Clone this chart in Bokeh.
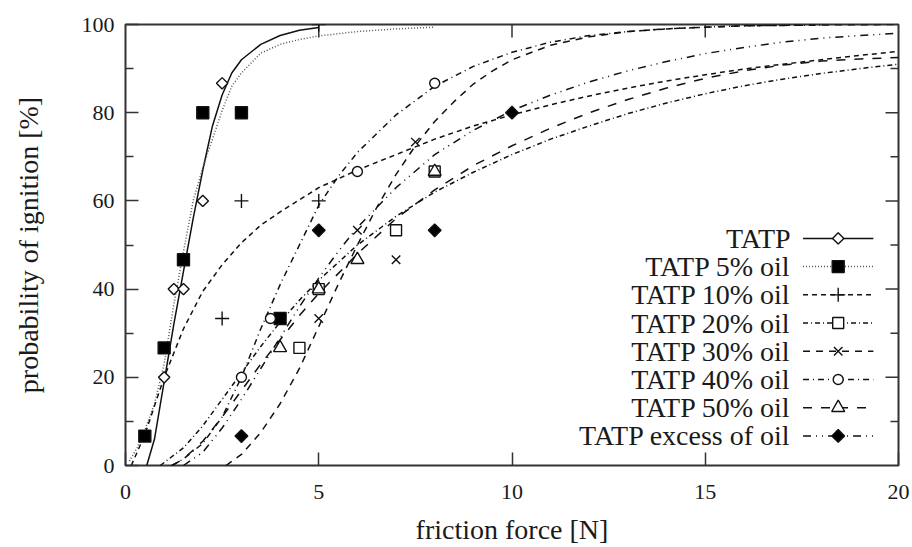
import math
from bokeh.plotting import figure
from bokeh.models import Range1d, FixedTicker
from bokeh.core.properties import value
from bokeh.embed import file_html
from bokeh.resources import INLINE

# ---------------- measured points ----------------
tatp_x = [1, 1.25, 1.5, 2, 2.5]
tatp_y = [20, 40, 40, 60, 86.67]
oil5_x = [0.5, 1, 1.5, 2, 3, 4]
oil5_y = [6.67, 26.67, 46.67, 80, 80, 33.33]
oil10_x = [2.5, 3, 5, 5]
oil10_y = [33.33, 60, 60, 100]
oil20_x = [4.5, 5, 7, 8]
oil20_y = [26.67, 40, 53.33, 66.67]
oil30_x = [5, 6, 7, 7.5]
oil30_y = [33.33, 53.33, 46.67, 73.33]
oil40_x = [3, 3.75, 6, 8]
oil40_y = [20, 33.33, 66.67, 86.67]
oil50_x = [4, 5, 6, 8]
oil50_y = [26.67, 40, 46.67, 66.67]
excess_x = [3, 5, 8, 10]
excess_y = [6.67, 53.33, 53.33, 80]

# ---------------- fitted curves ----------------
fit_tatp_x = [0.55, 0.75, 1.0, 1.25, 1.5, 1.75, 2.0, 2.25, 2.5, 2.75, 3.0, 3.5, 4.0, 4.5, 5.0]
fit_tatp_y = [0, 6, 19, 32, 44, 56, 67, 77, 84, 89, 92, 95.5, 97.5, 98.7, 99.3]
fit_oil5_x = [0.1, 0.3, 0.5, 0.75, 1.0, 1.25, 1.5, 1.75, 2.0, 2.25, 2.5, 2.75, 3.0, 3.5, 4.0, 4.5, 5.0, 6.0, 7.0, 8.0]
fit_oil5_y = [1, 4, 8, 14, 23, 36.5, 48.5, 60, 67.5, 74, 80.5, 86, 89, 93.5, 95.5, 96.6, 97.4, 98.4, 99, 99.4]
fit_oil10_x = [0.15, 0.5, 1, 1.5, 2, 2.5, 3, 3.5, 4, 5, 6, 7, 8, 9, 10, 11, 12, 13, 14, 15, 16, 17, 18, 19, 20]
fit_oil10_y = [0, 7, 20, 31, 39.5, 45.5, 50.5, 54.5, 57.5, 63, 67, 70.5, 74, 77, 79.5, 81.8, 83.8, 85.6, 87.2, 88.6, 89.9, 91, 92, 93, 93.9]
fit_oil20_x = [0.9, 1.5, 2, 2.5, 3, 3.5, 4, 4.5, 5, 6, 7, 8, 9, 10, 11, 12, 13, 14, 15, 16, 17, 18, 19, 20]
fit_oil20_y = [0, 4, 9, 15, 21, 27, 32.5, 37.5, 42, 50, 56.5, 62, 66.5, 70.5, 74, 77, 79.8, 82.2, 84.3, 86.1, 87.6, 88.9, 90, 91]
fit_oil30_x = [2.6, 3, 3.5, 4, 4.5, 5, 5.5, 6, 6.5, 7, 7.5, 8, 8.5, 9, 9.5, 10, 11, 12, 13, 14, 15, 16, 17, 18, 20]
fit_oil30_y = [0, 2.5, 7.5, 14, 22, 31.5, 41, 50, 58.5, 66, 72.5, 78, 82.5, 86.5, 89.5, 92, 95.3, 97.2, 98.4, 99, 99.4, 99.7, 99.8, 99.9, 100]
fit_oil40_x = [1.2, 1.5, 2, 2.5, 3, 3.5, 4, 4.5, 5, 5.5, 6, 7, 8, 9, 10, 11, 12, 13, 14, 15, 16, 17, 18]
fit_oil40_y = [0, 1.5, 5, 11, 20, 31, 41, 50, 59, 65.5, 71, 79.5, 86, 90.5, 93.7, 96, 97.5, 98.4, 99, 99.4, 99.7, 99.8, 99.9]
fit_oil50_x = [1.2, 1.5, 2, 2.5, 3, 3.5, 4, 4.5, 5, 6, 7, 8, 9, 10, 11, 12, 13, 14, 15, 16, 17, 18, 19, 20]
fit_oil50_y = [0, 1.5, 5.5, 11, 17, 23, 28.5, 34, 39, 48, 56, 62.5, 68, 72.5, 76.5, 80, 83, 85.6, 87.8, 89.5, 90.8, 91.7, 92.2, 92.5]
fit_excess_x = [1.5, 2, 2.5, 3, 3.5, 4, 4.5, 5, 5.5, 6, 7, 8, 9, 10, 11, 12, 13, 14, 15, 16, 17, 18, 19, 20]
fit_excess_y = [0, 3, 8.5, 15, 22, 29, 36, 42.5, 48.5, 54, 63, 70.5, 76, 80.5, 84, 87, 89.5, 91.6, 93.4, 94.8, 96, 96.9, 97.5, 98]

labels = ["TATP", "TATP 5% oil", "TATP 10% oil", "TATP 20% oil",
          "TATP 30% oil", "TATP 40% oil", "TATP 50% oil", "TATP excess of oil"]

x_ticks = [0, 5, 10, 15, 20]
y_ticks = [0, 20, 40, 60, 80, 100]
y_minor = [10, 30, 50, 70, 90]

# ---------------- styles ----------------
D = math.pi / 4
series = [
    (tatp_x, tatp_y, fit_tatp_x, fit_tatp_y, "solid", "#111111", "square", D, "white", 8),
    (oil5_x, oil5_y, fit_oil5_x, fit_oil5_y, "1 2", "#555555", "square", 0, "black", 12),
    (oil10_x, oil10_y, fit_oil10_x, fit_oil10_y, "5 4", "#111111", "cross", 0, None, 14),
    (oil20_x, oil20_y, fit_oil20_x, fit_oil20_y, "5 3 1 3", "#111111", "square", 0, "white", 11),
    (oil30_x, oil30_y, fit_oil30_x, fit_oil30_y, "7 6", "#111111", "x", 0, None, 12),
    (oil40_x, oil40_y, fit_oil40_x, fit_oil40_y, "6 4 1 4", "#111111", "circle", 0, "white", 10),
    (oil50_x, oil50_y, fit_oil50_x, fit_oil50_y, "9 9", "#111111", "triangle", 0, "white", 13),
    (excess_x, excess_y, fit_excess_x, fit_excess_y, "8 5 1 5 1 5", "#111111", "square", D, "black", 9),
]

FONT = "Liberation Serif"
TXT = "#1a1a1a"
EDGE = "#333333"

W, H = 910, 547
BL, BR, BT, BB = 125, 12, 24, 82
frame_w = W - BL - BR
frame_h = H - BT - BB

p = figure(width=W, height=H, output_backend="svg", toolbar_location=None,
           x_range=Range1d(0, 20), y_range=Range1d(0, 100),
           min_border_left=BL, min_border_right=BR, min_border_top=BT, min_border_bottom=BB)
p.background_fill_color = "white"
p.border_fill_color = "white"
p.outline_line_color = EDGE
p.outline_line_width = 2
p.xgrid.grid_line_color = None
p.ygrid.grid_line_color = None

for ax in (p.xaxis[0], p.yaxis[0]):
    ax.axis_line_color = None
    ax.major_tick_in = 13
    ax.major_tick_out = 0
    ax.minor_tick_in = 8
    ax.minor_tick_out = 0
    ax.major_tick_line_color = EDGE
    ax.minor_tick_line_color = EDGE
    ax.major_tick_line_width = 1.5
    ax.minor_tick_line_width = 1.5
    ax.major_label_text_font = FONT
    ax.major_label_text_font_size = "22px"
    ax.major_label_text_color = TXT
    ax.major_label_text_line_height = 1.0
    ax.axis_label_text_font = FONT
    ax.axis_label_text_font_size = "28px"
    ax.axis_label_text_font_style = "normal"
    ax.axis_label_text_color = TXT
    ax.axis_label_text_line_height = 1.0

p.xaxis[0].ticker = FixedTicker(ticks=x_ticks)
p.yaxis[0].ticker = FixedTicker(ticks=y_ticks, minor_ticks=y_minor)
p.xaxis[0].axis_label = "friction force [N]"
p.yaxis[0].axis_label = "probability of ignition [%]"
p.xaxis[0].major_label_standoff = 19
p.xaxis[0].axis_label_standoff = 12
p.yaxis[0].major_label_standoff = 11
p.yaxis[0].axis_label_standoff = 35

# mirrored ticks on top and right border (gnuplot style)
ux = 20.0 / frame_w   # data units per pixel, x
uy = 100.0 / frame_h  # data units per pixel, y
top_t = [t for t in x_ticks if 0 < t < 20]
p.segment(x0=top_t, y0=[100] * len(top_t), x1=top_t, y1=[100 - 13 * uy] * len(top_t),
          line_color=EDGE, line_width=1.5)
r_major = [t for t in y_ticks if 0 < t < 100]
p.segment(x0=[20] * len(r_major), y0=r_major, x1=[20 - 13 * ux] * len(r_major), y1=r_major,
          line_color=EDGE, line_width=1.5)
p.segment(x0=[20] * len(y_minor), y0=y_minor, x1=[20 - 8 * ux] * len(y_minor), y1=y_minor,
          line_color=EDGE, line_width=1.5)

# ---------------- curves and points ----------------
for (dx, dy, fx, fy, dash, col, mk, ang, fill, sz) in series:
    p.line(fx, fy, line_color=col, line_width=1.5, line_dash=dash)
for (dx, dy, fx, fy, dash, col, mk, ang, fill, sz) in series:
    p.scatter(dx, dy, marker=mk, angle=ang, size=sz, line_color="#111111", line_width=1.4,
              fill_color=fill if fill else "#111111")

# ---------------- key (gnuplot style: text left, sample right) ----------------
key_text_x = 17.21
key_line_x0 = 17.53
key_line_x1 = 19.35
key_mark_x = 18.44
key_top_y = 51.5
key_step = 6.4

key_y = [key_top_y - i * key_step for i in range(len(labels))]
p.text(x=[key_text_x] * len(labels), y=key_y, text=labels, text_align="right",
       text_baseline="middle", text_font=value(FONT), text_font_size=value("28px"),
       text_color=TXT)
for i, (dx, dy, fx, fy, dash, col, mk, ang, fill, sz) in enumerate(series):
    p.line([key_line_x0, key_line_x1], [key_y[i], key_y[i]], line_color=col,
           line_width=1.5, line_dash=dash)
    p.scatter([key_mark_x], [key_y[i]], marker=mk, angle=ang, size=sz, line_color="#111111",
              line_width=1.4, fill_color=fill if fill else "#111111")

open("out.html", "w").write(file_html(p, INLINE))
